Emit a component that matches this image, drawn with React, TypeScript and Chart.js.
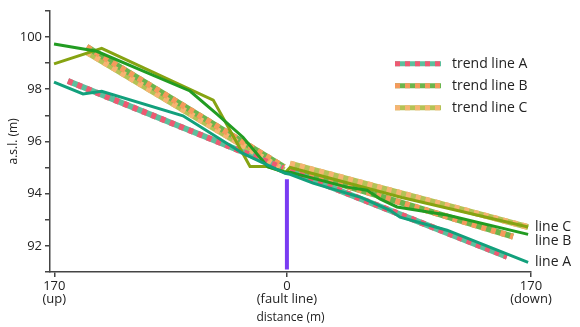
import React, { useEffect, useRef } from "react";
import { Chart, registerables } from "chart.js";

Chart.register(...registerables);

// ---- data ----
const X_TICKS = [-162, 0, 170];
const X_TICK_LABELS = [["170", "(up)"], ["0", "(fault line)"], ["170", "(down)"]];

const LINE_NAMES = ["line A", "line B", "line C"];
const LINE_A_X = [-162.2, -142, -129, -72.4, -30.6, -1.3, 2.2, 18.2, 52, 71.8, 78.8, 111.5, 168];
const LINE_A_Y = [98.27, 97.82, 97.92, 96.98, 95.54, 94.78, 94.74, 94.4, 93.85, 93.36, 93.1, 92.6, 91.37];
const LINE_B_X = [-162.2, -132.5, -67.5, -48.9, -30.6, -13.2, -1.3, 2.2, 41.9, 55.8, 64.8, 76.7, 111.5, 168];
const LINE_B_Y = [99.73, 99.45, 97.93, 97.05, 96.16, 95.02, 94.83, 94.82, 94.25, 94.13, 93.8, 93.49, 93.18, 92.44];
const LINE_C_X = [-162.2, -129, -51.3, -25.7, -13.2, -1.3, 2.2, 80, 168];
const LINE_C_Y = [98.97, 99.56, 97.58, 95.04, 95.04, 94.8, 95.0, 93.85, 92.72];

const TREND_NAMES = ["trend line A", "trend line B", "trend line C"];
const TREND_A_X = [-152.5, -2.7, 0, 2.2, 153.3];
const TREND_A_Y = [98.31, 94.97, null, 94.87, 91.59];
const TREND_B_X = [-139.4, -2, 0, 2.2, 157.5];
const TREND_B_Y = [99.62, 95.02, null, 94.95, 92.35];
const TREND_C_X = [-139.4, -2, 0, 2.2, 168];
const TREND_C_Y = [99.42, 94.9, null, 95.15, 92.72];

const FAULT_X = [0, 0];
const FAULT_Y = [94.55, 91.1];

// ---- styles ----
const FONT = "'Open Sans', 'Noto Sans', sans-serif";
const LINE_COLORS = ["#12a07c", "#229c22", "#86a312"];
const TREND_BASE = ["#5cbf9c", "#6bb54c", "#b4c255"];
const TREND_DASH = ["#ee5a72", "#f59a5c", "#f6b472"];
const FAULT_COLOR = "#7a3cf2";
const AXIS_COLOR = "#444444";

const pts = (xs: number[], ys: (number | null)[]) => xs.map((x, i) => ({ x, y: ys[i] }));

const lineLabelPlugin = {
  id: "lineLabels",
  afterDatasetsDraw(chart: any) {
    const ctx = chart.ctx;
    const area = chart.chartArea;
    const items: { y: number; text: string }[] = [];
    chart.data.datasets.forEach((ds: any, i: number) => {
      if (!ds.endLabel) return;
      const meta = chart.getDatasetMeta(i);
      const last = meta.data[meta.data.length - 1];
      items.push({ y: last.y, text: ds.endLabel });
    });
    items.sort((a, b) => a.y - b.y);
    for (let i = 1; i < items.length; i++) {
      if (items[i].y < items[i - 1].y + 14) items[i].y = items[i - 1].y + 14;
    }
    ctx.save();
    ctx.font = `14px ${FONT}`;
    ctx.fillStyle = "#222";
    ctx.textAlign = "left";
    ctx.textBaseline = "middle";
    items.forEach((it) => ctx.fillText(it.text, area.right + 4, it.y));
    ctx.restore();
  },
};

const trendLegendPlugin = {
  id: "trendLegend",
  afterDraw(chart: any) {
    const ctx = chart.ctx;
    const area = chart.chartArea;
    const x0 = area.right - 136;
    const y0 = area.top + 53;
    ctx.save();
    TREND_NAMES.forEach((name, i) => {
      const y = y0 + i * 22;
      ctx.lineWidth = 5;
      ctx.lineCap = "butt";
      ctx.setLineDash([]);
      ctx.strokeStyle = TREND_BASE[i];
      ctx.beginPath();
      ctx.moveTo(x0, y);
      ctx.lineTo(x0 + 46, y);
      ctx.stroke();
      ctx.setLineDash([5, 5]);
      ctx.strokeStyle = TREND_DASH[i];
      ctx.beginPath();
      ctx.moveTo(x0, y);
      ctx.lineTo(x0 + 46, y);
      ctx.stroke();
      ctx.setLineDash([]);
      ctx.font = `14px ${FONT}`;
      ctx.fillStyle = "#222";
      ctx.textAlign = "left";
      ctx.textBaseline = "middle";
      ctx.fillText(name, x0 + 57, y);
    });
    ctx.restore();
  },
};

export default function App() {
  const ref = useRef<HTMLCanvasElement>(null);
  useEffect(() => {
    document.body.style.margin = "0";
    const lineData = [pts(LINE_A_X, LINE_A_Y), pts(LINE_B_X, LINE_B_Y), pts(LINE_C_X, LINE_C_Y)];
    const trendData = [pts(TREND_A_X, TREND_A_Y), pts(TREND_B_X, TREND_B_Y), pts(TREND_C_X, TREND_C_Y)];
    const datasets: any[] = [];
    datasets.push({
      label: "fault",
      data: pts(FAULT_X, FAULT_Y),
      borderColor: FAULT_COLOR,
      borderWidth: 4,
      pointRadius: 0,
    });
    lineData.forEach((d, i) =>
      datasets.push({
        label: LINE_NAMES[i],
        endLabel: LINE_NAMES[i],
        data: d,
        borderColor: LINE_COLORS[i],
        borderWidth: 3,
        pointRadius: 0,
        tension: 0,
      })
    );
    trendData.forEach((d, i) => {
      datasets.push({
        label: TREND_NAMES[i] + " dash",
        data: d,
        borderColor: TREND_DASH[i],
        borderWidth: 6,
        borderDash: [5, 5],
        borderCapStyle: "butt",
        pointRadius: 0,
        spanGaps: false,
      });
    });
    trendData.forEach((d, i) => {
      datasets.push({
        label: TREND_NAMES[i],
        data: d,
        borderColor: TREND_BASE[i],
        borderWidth: 6,
        borderCapStyle: "butt",
        pointRadius: 0,
        spanGaps: false,
      });
    });

    const chart = new Chart(ref.current as HTMLCanvasElement, {
      type: "line",
      data: { datasets },
      options: {
        animation: false,
        responsive: false,
        devicePixelRatio: 1,
        layout: { padding: { top: 9, right: 49, left: 0, bottom: 0 } },
        plugins: { legend: { display: false }, tooltip: { enabled: false } },
        scales: {
          x: {
            type: "linear",
            min: -165,
            max: 170,
            afterBuildTicks: (scale: any) => {
              scale.ticks = X_TICKS.map((v) => ({ value: v }));
            },
            afterFit: (scale: any) => {
              scale.height = 55;
            },
            border: { color: AXIS_COLOR, width: 1.5 },
            grid: { drawOnChartArea: false, drawTicks: true, tickLength: 5, color: AXIS_COLOR, lineWidth: 1.5 },
            ticks: {
              autoSkip: false,
              maxRotation: 0,
              padding: 3,
              color: "#222",
              font: { family: FONT, size: 13, lineHeight: 1 },
              callback: (v: any) => {
                const i = X_TICKS.indexOf(Number(v));
                return i >= 0 ? X_TICK_LABELS[i] : "";
              },
            },
            title: {
              display: true,
              text: "distance (m)",
              color: "#222",
              font: { family: FONT, size: 12 },
              padding: { top: 0, bottom: 2 },
            },
          },
          y: {
            min: 91,
            max: 101,
            afterFit: (scale: any) => {
              scale.width = 50;
            },
            border: { color: AXIS_COLOR, width: 1.5 },
            grid: { drawOnChartArea: false, drawTicks: true, tickLength: 5, color: AXIS_COLOR, lineWidth: 1.5 },
            ticks: {
              stepSize: 1,
              padding: 3,
              color: "#222",
              font: { family: FONT, size: 13 },
              callback: (v: any) => (Number(v) % 2 === 0 ? String(v) : ""),
            },
            title: {
              display: true,
              text: "a.s.l. (m)",
              color: "#222",
              font: { family: FONT, size: 12 },
              padding: { top: 6, bottom: 0 },
            },
          },
        },
      },
      plugins: [lineLabelPlugin, trendLegendPlugin],
    } as any);
    return () => chart.destroy();
  }, []);
  return (
    <div style={{ width: 580, height: 327, background: "#fff" }}>
      <canvas ref={ref} width={580} height={327} />
    </div>
  );
}
